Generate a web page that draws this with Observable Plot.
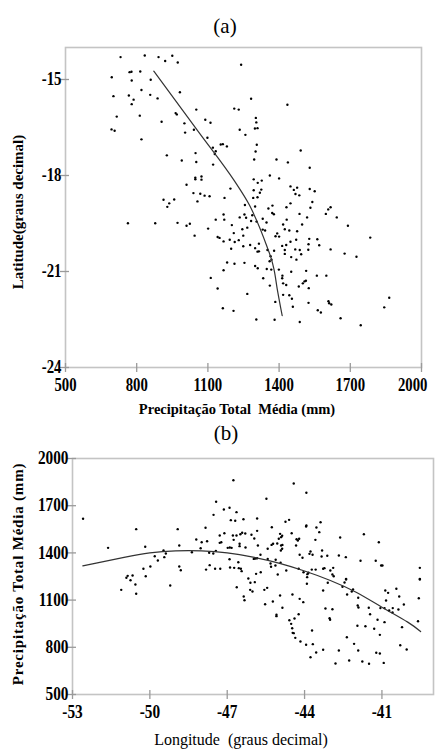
<!DOCTYPE html>
<html><head><meta charset="utf-8">
<script src="https://cdn.jsdelivr.net/npm/d3@7"></script>
<script src="https://cdn.jsdelivr.net/npm/@observablehq/plot@0.6"></script>
<style>
body{margin:0;background:#fff;}
#wrap{position:relative;width:437px;height:749px;overflow:hidden;background:#fff;font-family:"Liberation Serif","Times New Roman",serif;color:#000;}
.abs{position:absolute;white-space:nowrap;line-height:1;transform:translate(-50%,-50%);}
.rot{transform:translate(-50%,-50%) rotate(-90deg);}
#pa,#pb{position:absolute;left:0;}
</style></head><body><div id="wrap"><div id="pa" style="top:0"></div><div id="pb" style="top:420px"></div></div>
<script>
// ---- Panel (a): precipitation (mm) vs latitude ----
const xTicksA = [500, 800, 1100, 1400, 1700, 2000];
const yTicksA = [-15, -18, -21, -24];
const pointsA = [
[732,-14.30],[834,-14.25],[892,-14.30],[920,-14.42],[950,-14.26],[973,-14.47],[1240,-14.54],[695,-14.93],[770,-14.77],[778,-14.76],
[815,-14.75],[779,-15.03],[859,-15.01],[702,-15.52],[767,-15.50],[787,-15.63],[779,-15.77],[820,-15.33],[857,-15.48],[888,-15.59],
[982,-15.40],[716,-16.16],[813,-16.13],[694,-16.56],[707,-16.60],[820,-16.87],[905,-16.32],[964,-16.05],[969,-16.09],[1051,-15.94],
[1001,-16.37],[1089,-16.26],[1111,-16.35],[1211,-15.91],[1230,-15.94],[1234,-16.57],[1258,-16.73],[1041,-16.57],[1004,-16.66],[1098,-16.82],
[1121,-17.13],[1133,-17.24],[1129,-17.33],[1154,-17.03],[1163,-17.02],[1180,-17.09],[927,-17.37],[1048,-17.30],[990,-17.53],[1051,-17.58],
[1122,-17.66],[1047,-18.07],[1047,-18.12],[1073,-18.03],[1073,-18.13],[1010,-18.29],[1039,-18.55],[1068,-18.57],[1086,-18.63],[1107,-18.65],
[1195,-18.41],[1170,-18.70],[913,-18.76],[958,-18.75],[937,-18.87],[929,-18.98],[1056,-18.81],[1256,-18.92],
[1282,-15.60],[1435,-15.79],[1302,-16.20],[1304,-16.34],[1298,-16.53],[1309,-16.52],[1306,-17.04],[1301,-17.25],[1491,-17.22],[1295,-17.50],
[1389,-17.50],[1437,-17.59],[1529,-17.76],[1361,-18.00],[1400,-18.09],[1293,-18.12],[1310,-18.23],[1327,-18.16],[1293,-18.46],[1325,-18.44],
[1319,-18.54],[1291,-18.70],[1309,-18.68],[1448,-18.34],[1462,-18.45],[1476,-18.38],[1469,-18.58],[1485,-18.62],[1529,-18.42],[1550,-18.49],
[1540,-18.83],[1448,-18.87],[1372,-18.94],[1355,-19.03],[1431,-18.99],[1299,-18.97],[1532,-19.01],[1617,-18.99],[1607,-19.06],
[1371,-19.17],[1378,-19.21],[1597,-19.20],[1486,-19.20],[1261,-19.32],[1287,-19.24],[1282,-19.42],[1305,-19.44],[1331,-19.35],[1347,-19.47],
[1432,-19.38],[1417,-19.53],[1518,-19.31],[1497,-19.53],[1643,-19.31],[1690,-19.57],[1266,-19.63],[1331,-19.69],[1341,-19.72],[1424,-19.68],
[1443,-19.72],[1476,-19.74],[1385,-19.90],[1392,-19.81],[1400,-19.91],[1527,-19.98],[1561,-19.99],[1472,-20.01],[1448,-20.07],[1784,-19.94],
[1278,-20.17],[1315,-20.13],[1413,-20.20],[1430,-20.17],[1424,-20.33],[1424,-20.45],[1299,-20.27],[1309,-20.38],[1315,-20.37],[1351,-20.33],
[1379,-20.35],[1468,-20.31],[1487,-20.33],[1493,-20.46],[1523,-20.32],[1524,-20.15],[1569,-20.18],[1617,-20.31],[1451,-20.55],[1473,-20.63],
[1364,-20.52],[1676,-20.44],[1726,-20.54],[1299,-20.83],[1310,-20.90],[1360,-20.68],[1368,-20.63],[1348,-20.92],[1367,-20.94],[1399,-20.94],
[1451,-21.01],[1514,-20.98],[1559,-21.13],[1599,-21.13],[1414,-21.13],[1413,-21.21],[1333,-21.21],[1417,-21.37],[1430,-21.42],[1361,-21.44],
[1483,-21.47],[1500,-21.37],[1507,-21.31],[1513,-21.29],[1525,-21.52],[1266,-21.70],[1417,-21.73],[1443,-21.74],[1454,-21.85],[1384,-21.95],
[1458,-22.10],[1524,-21.98],[1608,-21.93],[1611,-21.99],[1620,-22.03],[1563,-22.21],[1576,-22.28],[1659,-22.46],[1843,-22.12],[1864,-21.82],
[1304,-22.50],[1381,-22.51],[1487,-22.58],[1744,-22.68],
[763,-19.49],[878,-19.49],[972,-19.48],[1010,-19.57],[1024,-19.51],[1044,-19.88],[1101,-19.66],[1133,-19.38],[1166,-19.22],[1169,-19.38],
[1201,-19.55],[1234,-19.31],[1254,-19.22],[1245,-19.68],[1209,-19.80],[1141,-19.92],[1149,-19.95],[1166,-20.06],[1192,-20.01],[1213,-20.08],
[1230,-20.02],[1249,-19.88],[1198,-20.29],[1249,-20.21],[1181,-20.72],[1212,-20.76],[1254,-20.73],[1166,-20.96],[1112,-21.20],[1141,-21.53],
[1163,-22.15],[1208,-22.23]
];
// trend curve: [precip, latitude]
const curveA = [[872,-14.74],[1062,-16.65],[1211,-18.16],[1276,-18.94],[1293,-19.20],[1350,-20.24],[1367,-20.60],[1378,-20.92],[1392,-21.54],[1413,-22.38]];

// ---- Panel (b): longitude vs precipitation (mm) ----
const xTicksB = [-53, -50, -47, -44, -41];
const yTicksB = [500, 800, 1100, 1400, 1700, 2000];
const pointsB = [
[-46.76,1862],[-47.43,1725],[-47.13,1676],[-46.91,1687],[-46.64,1659],[-47.53,1642],[-52.59,1617],[-50.53,1551],[-48.92,1551],[-47.84,1560],
[-46.86,1608],[-46.69,1604],[-46.37,1614],[-47.29,1511],[-47.11,1525],[-48.20,1485],[-47.99,1468],[-47.78,1474],[-48.86,1447],[-50.18,1439],
[-51.62,1432],[-48.03,1430],[-47.29,1464],[-47.23,1468],[-46.98,1432],[-46.90,1434],[-46.83,1432],[-46.75,1483],[-46.64,1511],[-46.49,1519],
[-46.42,1528],[-46.30,1523],[-46.52,1458],[-46.52,1443],[-46.29,1434],[-46.06,1515],[-46.78,1511],[-49.47,1415],[-49.44,1373],[-49.38,1396],
[-49.81,1379],[-49.69,1352],[-48.37,1404],[-47.70,1401],[-47.54,1396],[-47.44,1413],[-50.25,1299],[-49.98,1314],[-50.16,1252],[-50.86,1254],
[-50.67,1256],[-50.91,1242],[-48.86,1314],[-48.80,1290],[-47.82,1294],[-47.68,1322],[-47.47,1299],[-47.27,1299],[-46.91,1360],[-46.89,1307],
[-46.73,1305],[-46.57,1341],[-46.55,1303],[-46.47,1299],[-46.44,1284],[-46.18,1237],[-45.97,1362],
[-50.75,1226],[-50.56,1199],[-51.11,1165],[-50.53,1140],[-49.21,1193],[-46.63,1182],[-46.10,1210],[-45.93,1214],[-46.11,1165],[-46.02,1155],
[-46.36,1123],[-46.33,1099],
[-44.42,1841],[-43.93,1782],[-45.48,1744],[-45.84,1619],[-44.74,1598],[-44.60,1610],[-45.27,1563],[-45.84,1540],[-45.95,1492],[-45.81,1447],
[-44.50,1525],[-44.95,1521],[-44.91,1500],[-44.87,1509],[-45.00,1490],[-45.28,1451],[-45.22,1458],[-45.06,1460],[-44.91,1447],[-44.86,1451],
[-45.43,1426],[-44.92,1415],[-44.87,1426],[-44.31,1487],[-44.21,1490],[-44.26,1479],[-44.33,1447],[-43.93,1574],[-43.94,1568],[-43.54,1561],
[-43.43,1532],[-43.38,1595],[-43.58,1483],[-42.62,1498],[-41.70,1519],[-41.12,1468],[-44.19,1388],[-44.08,1369],[-43.81,1394],[-43.77,1409],
[-43.69,1388],[-43.32,1415],[-43.34,1377],[-43.12,1382],[-42.67,1383],[-42.40,1373],[-41.83,1350],[-41.24,1350],[-41.03,1320],[-40.98,1320],
[-39.53,1305],[-45.71,1388],[-45.90,1364],[-45.84,1366],[-45.43,1362],[-45.32,1333],[-45.30,1312],[-45.13,1320],[-45.12,1356],[-44.93,1337],
[-45.88,1267],[-45.70,1277],[-45.04,1263],[-44.71,1288],[-44.23,1299],[-44.04,1277],[-43.89,1265],[-43.85,1274],[-43.72,1294],[-43.57,1294],
[-43.28,1299],[-43.23,1303],[-43.00,1288],[-42.89,1305],[-42.92,1263],[-42.39,1235],[-39.53,1235],
[-45.56,1165],[-45.45,1178],[-45.53,1074],[-45.23,1091],[-45.09,1007],[-45.09,998],[-44.95,1129],[-44.86,1051],[-44.47,1136],[-44.19,1108],
[-44.05,1087],[-44.23,1010],[-44.39,983],[-44.59,972],[-44.52,949],[-44.48,921],[-44.46,892],[-44.42,890],[-44.36,860],[-44.16,837],
[-43.94,816],[-43.68,820],[-43.71,907],[-43.77,737],[-43.55,767],[-43.28,784],[-43.91,1204],[-43.90,1246],[-43.28,1161],[-43.19,1047],
[-42.92,1042],[-43.10,1210],[-43.03,985],[-43.01,975],[-42.87,1252],[-42.80,697],[-42.67,780],[-42.53,1185],[-42.45,1212],[-42.39,1231],
[-42.36,864],[-42.27,716],[-42.35,1136],[-42.17,1155],[-42.12,1167],[-42.08,822],[-41.94,1066],[-41.91,1053],[-41.92,1115],[-41.95,937],
[-41.92,780],[-41.76,710],[-41.64,934],[-41.51,1051],[-41.46,1010],[-41.50,695],[-41.30,918],[-41.22,765],[-41.08,761],[-41.17,975],
[-41.08,879],[-41.06,1049],[-40.90,1049],[-40.87,1161],[-40.76,1146],[-40.84,1097],[-40.90,960],[-40.93,701],[-40.72,1034],[-40.58,1049],
[-40.59,1021],[-40.44,1172],[-40.33,1123],[-40.36,1040],[-40.15,1072],[-40.22,928],[-40.29,813],[-40.04,786],[-39.60,966],[-39.57,1112],
[-39.53,1231]
];
// trend curve: [longitude, precip]
const curveB = [[-52.6,1318],[-51,1372],[-50,1400],[-49,1413],[-48,1413],[-47,1400],[-46,1373],[-45,1335],[-44,1285],[-43,1225],[-42,1150],[-41,1055],[-40,960],[-39.5,900]];

const fmt = d => String(d);
const tickStyle = {stroke: "#9a9a9a", strokeWidth: 1.3};

function axes(xt, yt) {
  return [
    Plot.frame({stroke: "#c4c4c4", strokeWidth: 1.6}),
    Plot.axisX({ticks: xt, tickSize: 5, tickPadding: 6, tickFormat: fmt, label: null, fill: "#000", ...tickStyle}),
    Plot.axisX({ticks: xt, tickSize: -4, tickFormat: () => "", label: null, ...tickStyle}),
    Plot.axisY({ticks: yt, tickSize: 5, tickPadding: -1, tickFormat: fmt, label: null, fill: "#000", ...tickStyle}),
    Plot.axisY({ticks: yt, tickSize: -4, tickFormat: () => "", label: null, ...tickStyle})
  ];
}
const style = {fontFamily: "'Liberation Serif', serif", fontSize: "18px", fontWeight: "bold", background: "transparent", color: "#000"};

// condense tick labels (the figure uses a narrow bold serif) and keep them inside the page
function condense(svg, factor, pageWidth) {
  svg.querySelectorAll('g[aria-label$="tick label"] text').forEach(t => {
    if (!t.textContent) return;
    const w = t.getComputedTextLength();
    t.setAttribute("textLength", (w * factor).toFixed(1));
    t.setAttribute("lengthAdjust", "spacingAndGlyphs");
    const r = t.getBoundingClientRect();
    const over = Math.max(r.right, r.left + w) - (pageWidth - 3);
    if (over > 0) t.setAttribute("dx", (-over).toFixed(1));
  });
}

const plotA = Plot.plot({
  width: 437, height: 400,
  marginTop: 47, marginLeft: 65, marginRight: 16, marginBottom: 33,
  x: {domain: [500, 2000]},
  y: {domain: [-24, -14]},
  style,
  marks: [
    ...axes(xTicksA, yTicksA),
    Plot.dot(pointsA, {x: d => d[0], y: d => d[1], r: 1.2, fill: "#000", stroke: null}),
    Plot.line(curveA, {x: d => d[0], y: d => d[1], curve: "monotone-y", stroke: "#333", strokeWidth: 1.2})
  ]
});
document.getElementById("pa").appendChild(plotA);
condense(plotA, 0.82, 437);

const plotB = Plot.plot({
  width: 437, height: 329,
  marginTop: 38, marginLeft: 72, marginRight: 4, marginBottom: 55,
  x: {domain: [-53, -39]},
  y: {domain: [500, 2000]},
  style,
  marks: [
    ...axes(xTicksB, yTicksB),
    Plot.dot(pointsB, {x: d => d[0], y: d => d[1], r: 1.2, fill: "#000", stroke: null}),
    Plot.line(curveB, {x: d => d[0], y: d => d[1], curve: "natural", stroke: "#333", strokeWidth: 1.2})
  ]
});
document.getElementById("pb").appendChild(plotB);
condense(plotB, 0.85, 437);

const wrap = document.getElementById("wrap");
function label(text, x, y, css, rot) {
  const d = document.createElement("div");
  d.className = "abs" + (rot ? " rot" : "");
  d.textContent = text;
  d.style.left = x + "px"; d.style.top = y + "px";
  d.style.cssText += css;
  wrap.appendChild(d);
}
label("(a)", 225, 26, "font-size:21px;");
label("Precipitação Total  Média (mm)", 237, 409, "font-size:14.5px;font-weight:bold;white-space:pre;");
label("Latitude(graus decimal)", 18, 212, "font-size:15px;font-weight:bold;", true);
label("(b)", 226, 433, "font-size:21px;");
label("Precipitação Total Média (mm)", 18, 574, "font-size:15px;font-weight:bold;letter-spacing:0.8px;", true);
label("Longitude  (graus decimal)", 241, 740, "font-size:16px;white-space:pre;");
</script>
</body></html>
